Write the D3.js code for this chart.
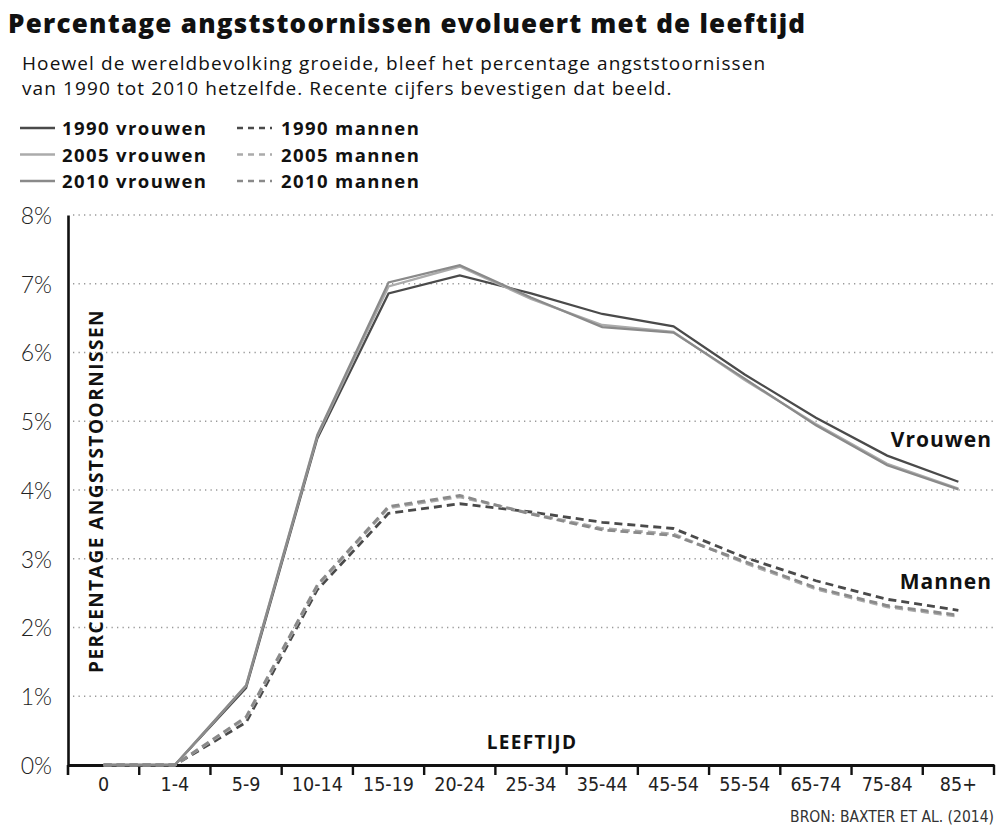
<!DOCTYPE html>
<html>
<head>
<meta charset="utf-8">
<title>Percentage angststoornissen</title>
<script src="https://d3js.org/d3.v7.min.js" charset="utf-8"></script>
<style>
  html, body { margin: 0; padding: 0; background: #fff; }
  svg { display: block; }
</style>
</head>
<body>
<div id="chart"></div>
<script>
// age groups (x categories) and percentages
const ageGroups = ["0", "1-4", "5-9", "10-14", "15-19", "20-24", "25-34", "35-44", "45-54", "55-54", "65-74", "75-84", "85+"];
const yTicks = [0, 1, 2, 3, 4, 5, 6, 7, 8];

const vrouwen1990 = [0, 0, 1.12, 4.75, 6.86, 7.12, 6.86, 6.56, 6.38, 5.68, 5.05, 4.50, 4.12];
const vrouwen2005 = [0, 0, 1.15, 4.78, 6.96, 7.25, 6.78, 6.40, 6.30, 5.60, 4.96, 4.38, 4.02];
const vrouwen2010 = [0, 0, 1.16, 4.80, 7.02, 7.27, 6.80, 6.37, 6.29, 5.62, 4.94, 4.36, 4.01];
const mannen1990 = [0, 0, 0.62, 2.55, 3.66, 3.80, 3.68, 3.53, 3.44, 3.02, 2.68, 2.41, 2.25];
const mannen2005 = [0, 0, 0.68, 2.60, 3.74, 3.90, 3.66, 3.44, 3.36, 2.94, 2.56, 2.30, 2.16];
const mannen2010 = [0, 0, 0.70, 2.62, 3.76, 3.92, 3.65, 3.42, 3.34, 2.96, 2.58, 2.32, 2.18];

const series = [
  { name: "1990 vrouwen", values: vrouwen1990, color: "#4a4a4a", dash: null },
  { name: "2005 vrouwen", values: vrouwen2005, color: "#ababab", dash: null },
  { name: "2010 vrouwen", values: vrouwen2010, color: "#8a8a8a", dash: null },
  { name: "1990 mannen", values: mannen1990, color: "#4a4a4a", dash: "8,5" },
  { name: "2005 mannen", values: mannen2005, color: "#ababab", dash: "8,5" },
  { name: "2010 mannen", values: mannen2010, color: "#8a8a8a", dash: "8,5" }
];

const width = 996, height = 827;
const margin = { top: 215, right: 2, bottom: 62, left: 68 };
const graphWidth = width - margin.left - margin.right;
const graphHeight = height - margin.top - margin.bottom;
const mainFont = "'Open Sans', Lato, sans-serif";
const narrowFont = "'Liberation Sans Narrow', 'DejaVu Sans Condensed', Roboto, sans-serif";

const svg = d3.select("#chart").append("svg")
  .attr("width", width)
  .attr("height", height)
  .style("font-family", mainFont);

// title + subtitle
svg.append("text")
  .attr("x", 8).attr("y", 33)
  .style("font-size", "26px").style("font-weight", 800).style("letter-spacing", "1.25px")
  .attr("fill", "#111")
  .text("Percentage angststoornissen evolueert met de leeftijd");

const sub = ["Hoewel de wereldbevolking groeide, bleef het percentage angststoornissen",
             "van 1990 tot 2010 hetzelfde. Recente cijfers bevestigen dat beeld."];
svg.selectAll(".sub").data(sub).enter().append("text")
  .attr("class", "sub")
  .attr("x", 22).attr("y", (d, i) => 70 + i * 25)
  .style("font-size", "19px").style("letter-spacing", "1.1px")
  .attr("fill", "#111")
  .text(d => d);

// legend
const legend = svg.append("g");
const legItem = legend.selectAll("g").data(series).enter().append("g")
  .attr("transform", (d, i) => `translate(${i < 3 ? 20 : 237}, ${128 + (i % 3) * 26.5})`);
legItem.append("line")
  .attr("x1", 0).attr("x2", 35).attr("y1", 0).attr("y2", 0)
  .attr("stroke", d => d.color).attr("stroke-width", 2.5)
  .attr("stroke-dasharray", d => d.dash ? "6,5" : null);
legItem.append("text")
  .attr("x", d => d.dash ? 44 : 42).attr("y", 7)
  .style("font-size", "18.5px").style("font-weight", 700).style("letter-spacing", "1.4px")
  .attr("fill", "#111")
  .text(d => d.name);

const graph = svg.append("g").attr("transform", `translate(${margin.left}, ${margin.top})`);

const xScale = d3.scaleBand().domain(ageGroups).range([0, graphWidth]);
const yScale = d3.scaleLinear().domain([0, 8]).range([graphHeight, 0]);

// dotted gridlines
graph.selectAll(".grid").data(yTicks.filter(d => d > 0)).enter().append("line")
  .attr("class", "grid")
  .attr("x1", 5).attr("x2", graphWidth)
  .attr("y1", d => yScale(d)).attr("y2", d => yScale(d))
  .attr("stroke", "#999").attr("stroke-width", 1.3)
  .attr("stroke-dasharray", "1.3,4.2");

// y axis
const yAxis = graph.append("g")
  .call(d3.axisLeft(yScale).tickValues(yTicks).tickFormat(d => d + "%").tickSize(0).tickPadding(16));
yAxis.select(".domain").attr("stroke", "#111").attr("stroke-width", 2.6);
yAxis.selectAll("text")
  .style("font-family", "Lato, sans-serif").style("font-weight", 300)
  .style("font-size", "23px").attr("fill", "#222").attr("dy", "0.36em");

// x axis
const xAxis = graph.append("g")
  .attr("transform", `translate(0, ${graphHeight})`)
  .call(d3.axisBottom(xScale).tickSize(0).tickPadding(12));
xAxis.select(".domain").attr("stroke", "#111").attr("stroke-width", 3);
xAxis.selectAll("text")
  .style("font-family", narrowFont)
  .style("font-size", "19.5px").attr("fill", "#222");
// tick marks sit on the band edges
graph.selectAll(".xtick").data(ageGroups).enter().append("line")
  .attr("class", "xtick")
  .attr("x1", d => xScale(d) + xScale.bandwidth()).attr("x2", d => xScale(d) + xScale.bandwidth())
  .attr("y1", graphHeight).attr("y2", graphHeight + 10)
  .attr("stroke", "#111").attr("stroke-width", 2.4);
graph.append("line")
  .attr("x1", 0).attr("x2", 0)
  .attr("y1", graphHeight).attr("y2", graphHeight + 10)
  .attr("stroke", "#111").attr("stroke-width", 2.6);

// lines (drawn on top of the axis, as in the original)
const line = d3.line()
  .x((d, i) => xScale(ageGroups[i]) + xScale.bandwidth() / 2)
  .y(d => yScale(d));

graph.selectAll(".series").data(series).enter().append("path")
  .attr("class", "series")
  .attr("fill", "none")
  .attr("stroke", d => d.color)
  .attr("stroke-width", d => d.dash ? 2.8 : 2.3)
  .attr("stroke-dasharray", d => d.dash)
  .attr("d", d => line(d.values));

// axis titles
svg.append("text")
  .attr("transform", `translate(103, ${margin.top + 276}) rotate(-90)`)
  .attr("text-anchor", "middle")
  .style("font-size", "19px").style("font-weight", 700).style("letter-spacing", "1.5px")
  .attr("fill", "#111")
  .text("PERCENTAGE ANGSTSTOORNISSEN");

svg.append("text")
  .attr("x", 532).attr("y", 749)
  .attr("text-anchor", "middle")
  .style("font-size", "19px").style("font-weight", 700).style("letter-spacing", "1.3px")
  .attr("fill", "#111")
  .text("LEEFTIJD");

// series labels
svg.append("text")
  .attr("x", 992).attr("y", 447).attr("text-anchor", "end")
  .style("font-size", "21px").style("font-weight", 700).style("letter-spacing", "1px")
  .attr("fill", "#111")
  .text("Vrouwen");
svg.append("text")
  .attr("x", 992).attr("y", 589).attr("text-anchor", "end")
  .style("font-size", "21px").style("font-weight", 700).style("letter-spacing", "1px")
  .attr("fill", "#111")
  .text("Mannen");

// source
svg.append("text")
  .attr("x", 994).attr("y", 822).attr("text-anchor", "end")
  .style("font-family", narrowFont)
  .style("font-size", "15.5px").attr("fill", "#333")
  .text("BRON: BAXTER ET AL. (2014)");
</script>
</body>
</html>
